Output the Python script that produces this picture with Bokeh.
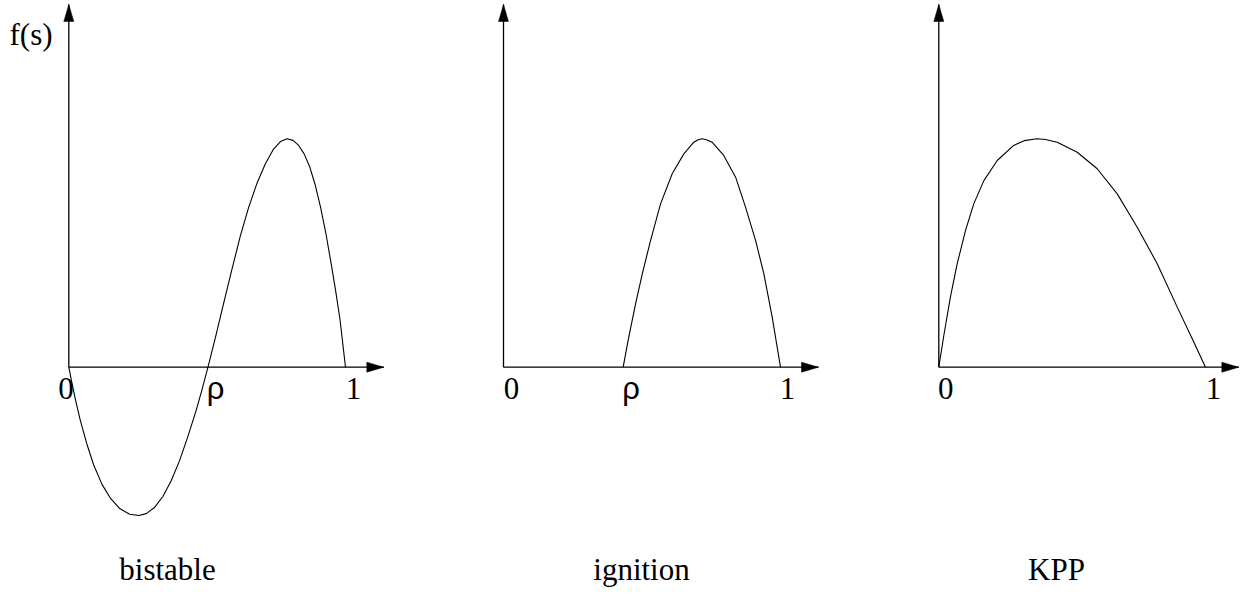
from bokeh.plotting import figure
from bokeh.layouts import row
from bokeh.models import Range1d
from bokeh.core.properties import value
from bokeh.embed import file_html
from bokeh.resources import INLINE

# ---------------- data ----------------
panel_titles = ["bistable", "ignition", "KPP"]
y_label = "f(s)"

bistable_s = [0.0, 0.012, 0.025, 0.042, 0.065, 0.090, 0.120, 0.150, 0.185, 0.220,
              0.253, 0.280, 0.310, 0.340, 0.370, 0.400, 0.430, 0.460, 0.480, 0.503,
              0.530, 0.560, 0.590, 0.620, 0.650, 0.680, 0.710, 0.740, 0.765, 0.789,
              0.810, 0.830, 0.850, 0.870, 0.890, 0.910, 0.930, 0.950, 0.965, 0.980, 1.0]
bistable_f = [0.0, -0.073, -0.147, -0.235, -0.335, -0.428, -0.513, -0.573, -0.620, -0.644,
              -0.649, -0.641, -0.614, -0.566, -0.497, -0.410, -0.305, -0.190, -0.105, 0.0,
              0.131, 0.282, 0.430, 0.575, 0.700, 0.805, 0.890, 0.955, 0.988, 1.0,
              0.993, 0.972, 0.935, 0.880, 0.800, 0.700, 0.580, 0.440, 0.330, 0.210, 0.0]

ignition_s = [0.432, 0.452, 0.477, 0.501, 0.531, 0.567, 0.609, 0.651, 0.687, 0.703,
              0.717, 0.733, 0.753, 0.795, 0.838, 0.874, 0.910, 0.940, 0.970, 1.0]
ignition_f = [0.0, 0.131, 0.278, 0.409, 0.555, 0.715, 0.847, 0.934, 0.985, 0.996,
              1.0, 0.996, 0.985, 0.927, 0.832, 0.700, 0.555, 0.409, 0.219, 0.0]

kpp_s = [0.0, 0.019, 0.044, 0.069, 0.100, 0.131, 0.169, 0.219, 0.281, 0.320, 0.369,
         0.400, 0.444, 0.519, 0.594, 0.669, 0.744, 0.819, 0.894, 0.956, 1.0]
kpp_f = [0.0, 0.140, 0.310, 0.453, 0.598, 0.715, 0.817, 0.905, 0.971, 0.992, 1.0,
         0.997, 0.985, 0.941, 0.869, 0.759, 0.613, 0.453, 0.263, 0.110, 0.0]

tick_labels = [["0", "\u03c1", "1"], ["0", "\u03c1", "1"], ["0", "1"]]
tick_s = [[0.0, 0.503, 1.0], [0.0, 0.432, 1.0], [0.0, 1.0]]

curves_s = [bistable_s, ignition_s, kpp_s]
curves_f = [bistable_f, ignition_f, kpp_f]

# ---------------- layout / styling (pixels) ----------------
W = [432, 435, 374]
H = 588
PAGE_LEFT = [0, 432, 867]
PAGE_TOP = 0
X0 = [68.3, 503.0, 938.3]
KX = [276.7, 277.0, 266.7]
Y0 = 366.7
KY = 228.4
AXIS_LEN = [315, 315, 300]
Y_TIP = 4
HEAD_LEN, HEAD_HALF = 17, 5
tick_nudge = [[-2.8, 7.5, 8], [8, 8, 7], [7, 8]]
BASE_FIX = 12            # renderer draws alphabetic baselines this many px lower
TICK_BASE = 400
TITLE_BASE = 581
YLABEL_BASE = 46
title_center = [167, 641, 1056]
FS = "31px"
SERIF = value("Liberation Serif")
SANS = value("Liberation Sans")

figs = []
for i in range(3):
    kx = KX[i]
    x_start = (PAGE_LEFT[i] - X0[i]) / kx
    x_end = (PAGE_LEFT[i] + W[i] - X0[i]) / kx
    y_end = (Y0 - PAGE_TOP) / KY
    y_start = (Y0 - (PAGE_TOP + H)) / KY
    p = figure(width=W[i], height=H, output_backend="svg", toolbar_location=None,
               x_range=Range1d(x_start, x_end), y_range=Range1d(y_start, y_end),
               min_border=0)
    p.axis.visible = False
    p.grid.visible = False
    p.outline_line_color = None

    xt = AXIS_LEN[i] / kx
    yt = (Y0 - Y_TIP) / KY
    p.line([0, xt], [0, 0], line_color="black", line_width=1.3)
    p.line([0, 0], [0, yt], line_color="black", line_width=1.3)
    p.patch([xt, xt - HEAD_LEN / kx, xt - HEAD_LEN / kx],
            [0, HEAD_HALF / KY, -HEAD_HALF / KY], fill_color="black", line_color="black",
            line_width=0.5)
    p.patch([0, HEAD_HALF / kx, -HEAD_HALF / kx],
            [yt, yt - HEAD_LEN / KY, yt - HEAD_LEN / KY], fill_color="black",
            line_color="black", line_width=0.5)

    p.line(curves_s[i], curves_f[i], line_color="black", line_width=1.1,
           line_join="round")

    fb = (Y0 - (TICK_BASE - BASE_FIX)) / KY
    for lab, s, nd in zip(tick_labels[i], tick_s[i], tick_nudge[i]):
        font = SANS if lab == "\u03c1" else SERIF
        p.text(x=[s + nd / kx], y=[fb], text=[lab], text_font=font,
               text_font_size=value(FS), text_align="center",
               text_baseline="alphabetic", text_color="black")

    p.text(x=[(title_center[i] - X0[i]) / kx], y=[(Y0 - (TITLE_BASE - BASE_FIX)) / KY],
           text=[panel_titles[i]], text_font=SERIF, text_font_size=value(FS),
           text_align="center", text_baseline="alphabetic", text_color="black")

    if i == 0:
        p.text(x=[(9 - X0[i]) / kx], y=[(Y0 - (YLABEL_BASE - BASE_FIX)) / KY],
               text=[y_label], text_font=SERIF, text_font_size=value(FS),
               text_align="left", text_baseline="alphabetic", text_color="black")
    figs.append(p)

layout = row(*figs, spacing=0)
open("out.html", "w").write(file_html(layout, INLINE))
